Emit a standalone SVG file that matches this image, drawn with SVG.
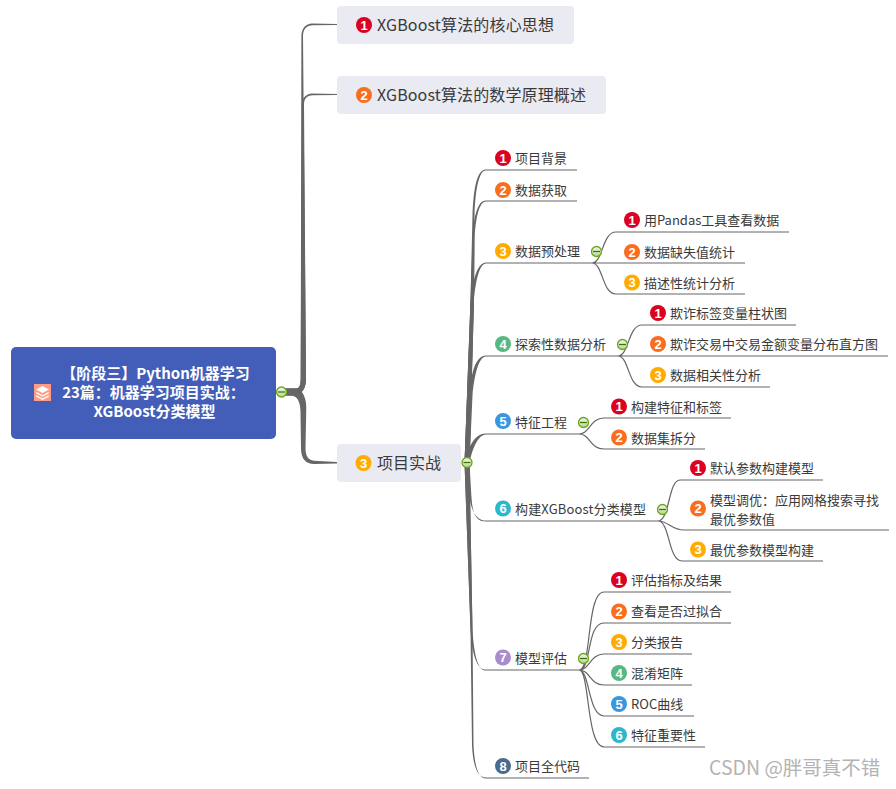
<svg xmlns="http://www.w3.org/2000/svg" width="896" height="789" viewBox="0 0 896 789">
<style>
text{font-family:"Noto Sans CJK SC","Liberation Sans",sans-serif;fill:#3a3a3a}
.b{fill:#e9eaf2}
.t{font-size:16px}
.s{font-size:13px}
.n{font-size:13px;font-weight:700;fill:#fff;text-anchor:middle;font-family:"Liberation Sans",sans-serif}
.r{font-size:15px;font-weight:700;fill:#fff;text-anchor:middle}
.l{fill:none;stroke:#666;stroke-width:1.2}
.tr{fill:#666}
.c{fill:url(#g);stroke:#6aa51e;stroke-width:1.3}
.m{stroke:#3f6f10;stroke-width:1.2}
.c1{fill:#dc0021}.c2{fill:#f96d1f}.c3{fill:#ffab00}.c4{fill:#58b884}.c5{fill:#3a96dd}.c6{fill:#2db7cb}.c7{fill:#a88ccb}.c8{fill:#4b6b8e}
</style>
<defs>
<linearGradient id="g" x1="0" y1="0" x2="0" y2="1"><stop offset="0" stop-color="#f2f6ea"/><stop offset="1" stop-color="#b5d78c"/></linearGradient>
</defs>
<g id="connectors">
<path class="tr" d="M281 388.500H296C300 388.500 300.600 384 300.700 378L301.400 36C301.600 28 306 24 312 23.600L337 24V25L313 25.200C306 25.600 303.200 29 303 36L306 378C306 388 303 392 297 395.500H281Z"/>
<path class="tr" d="M281 388.500H296C300 388.500 300.600 384 300.700 378L301.800 105C302 98 306 94 312 93.600L337 94V95L313 95.200C306 95.600 304 99 304 105L306 378C306 388 303 392 297 395.500H281Z"/>
<path class="tr" d="M281 388.500H296C301 389 303 393 304.500 397C306 401 306.500 405 306.200 412L305.500 448C305.500 456 308 460 314 460.800L337 462V463.500L314 464C306 464 301.200 459 301 449L300.500 412C300.300 403 298 396.500 292 395.500H281Z"/>
<path class="tr" d="M464.500 463L470.500 300L472.500 215C473.500 188 477 169.600 486 169.600V170.600C479 170.600 475.500 189 474.500 215L474 300L469.500 463Z"/>
<path class="tr" d="M464.500 463L470.500 300L472.500 240C473.500 218 477 200.600 486 200.600V201.600C479 201.600 475.500 219 474.500 240L474 300L469.500 463Z"/>
<path class="tr" d="M464.500 463L470.500 305C472 282 477 262.600 486 262.600V263.600C479 263.600 475 284 473.500 305L469.500 463Z"/>
<path class="tr" d="M464.500 463L469.500 395C471 372 476 355.600 486 355.600V356.600C479 356.600 474.500 374 472.500 395L469.500 463Z"/>
<path class="tr" d="M464.500 463C468 447 475 433.600 486 433.600V434.600C478 434.600 472 450 469.500 463Z"/>
<path class="tr" d="M464.500 463L468.500 490C470 508 475 520.600 486 520.600V521.600C473 521.600 472 508 471 490L469.500 463Z"/>
<path class="tr" d="M464.500 463L470.500 630C472 655 477 669.600 486 669.600V670.600C478 670.600 474 655 472.500 630L469.500 463Z"/>
<path class="tr" d="M464.500 463L470.500 630L472 745C473 765 477 777.600 486 777.600V778.600C478 778.600 474.500 765 473.500 745L472.500 630L469.500 463Z"/>
<path class="l" d="M486 170H577M486 201H577M486 263H592M486 356H618M486 434H579M486 521H658M486 670H579M486 778H589"/>
<path class="l" d="M592 263C603 263 602 232 616 232H789M592 263H745M592 263C603 263 602 294 616 294H745"/>
<path class="l" d="M618 356C629 356 628 325 642 325H796M618 356H888M618 356C629 356 628 387 642 387H770"/>
<path class="l" d="M579 434C590 434 590 418 604 418H731M579 434C590 434 590 449 604 449H705"/>
<path class="l" d="M658 521C670 521 668 480 680 480H823M658 521C668 521 672 530 684 530H889M658 521C670 521 668 561 682 561H823"/>
<path class="l" d="M579 670C592 670 586 592 604 592H731M579 670C592 670 586 623 604 623H731M579 670C590 670 590 654 604 654H692M579 670C590 670 590 685 604 685H692M579 670C590 670 588 716 604 716H694M579 670C590 670 586 747 604 747H705"/>
</g>
<g id="root">
<rect x="11" y="347" width="265" height="92" rx="5" fill="#425eb9"/>
<rect x="34" y="384" width="17" height="17" fill="#ff9c85"/>
<path fill="#fff" d="M42.500 386L49 389.500 42.500 393 36 389.500ZM36.500 392L42.500 395.200 48.500 392 49 393.200 42.500 396.700 36 393.200ZM36.500 395.200L42.500 398.400 48.500 395.200 49 396.400 42.500 399.900 36 396.400Z"/>
<text class="r" x="155.500" y="378.500">【阶段三】Python机器学习</text>
<text class="r" x="153.500" y="398">23篇：机器学习项目实战：</text>
<text class="r" x="154.500" y="417">XGBoost分类模型</text>
<circle class="c" cx="281.500" cy="392" r="5"/><path class="m" d="M278 392H285"/>
</g>
<g id="n1"><rect class="b" x="337" y="6" width="237" height="38" rx="4"/><circle class="c1" cx="364" cy="25" r="8"/><text class="n" x="364" y="29.500">1</text><text class="t" x="377" y="31" textLength="177">XGBoost算法的核心思想</text></g>
<g id="n2"><rect class="b" x="337" y="76" width="269" height="38" rx="4"/><circle class="c2" cx="364" cy="95" r="8"/><text class="n" x="364" y="99.500">2</text><text class="t" x="377" y="101" textLength="209">XGBoost算法的数学原理概述</text></g>
<g id="n3"><rect class="b" x="337" y="444" width="124" height="38" rx="4"/><circle class="c3" cx="363.500" cy="463" r="8"/><text class="n" x="363.500" y="467.500">3</text><text class="t" x="377" y="469">项目实战</text><circle class="c" cx="467" cy="462.500" r="5"/><path class="m" d="M463.500 462.500H470.500"/></g>
<g id="a1"><circle class="c1" cx="503" cy="158" r="8"/><text class="n" x="503" y="162.500">1</text><text class="s" x="515" y="163">项目背景</text></g>
<g id="a2"><circle class="c2" cx="503" cy="190" r="8"/><text class="n" x="503" y="194.500">2</text><text class="s" x="515" y="194.500">数据获取</text></g>
<g id="a3"><circle class="c3" cx="503" cy="251" r="8"/><text class="n" x="503" y="255.500">3</text><text class="s" x="515" y="256">数据预处理</text><circle class="c" cx="596.500" cy="251.500" r="5"/><path class="m" d="M593 251.500H600"/></g>
<g id="a31"><circle class="c1" cx="632" cy="220" r="8"/><text class="n" x="632" y="224.500">1</text><text class="s" x="644" y="225">用Pandas工具查看数据</text></g>
<g id="a32"><circle class="c2" cx="632" cy="252" r="8"/><text class="n" x="632" y="256.500">2</text><text class="s" x="644" y="256.500">数据缺失值统计</text></g>
<g id="a33"><circle class="c3" cx="632" cy="282.500" r="8"/><text class="n" x="632" y="287">3</text><text class="s" x="644" y="287.500">描述性统计分析</text></g>
<g id="a4"><circle class="c4" cx="503" cy="344" r="8"/><text class="n" x="503" y="348.500">4</text><text class="s" x="515" y="349">探索性数据分析</text><circle class="c" cx="622.500" cy="344.500" r="5"/><path class="m" d="M619 344.500H626"/></g>
<g id="a41"><circle class="c1" cx="658" cy="313" r="8"/><text class="n" x="658" y="317.500">1</text><text class="s" x="670" y="318">欺诈标签变量柱状图</text></g>
<g id="a42"><circle class="c2" cx="658" cy="344" r="8"/><text class="n" x="658" y="348.500">2</text><text class="s" x="670" y="349">欺诈交易中交易金额变量分布直方图</text></g>
<g id="a43"><circle class="c3" cx="658" cy="375" r="8"/><text class="n" x="658" y="379.500">3</text><text class="s" x="670" y="380">数据相关性分析</text></g>
<g id="a5"><circle class="c5" cx="503" cy="421" r="8"/><text class="n" x="503" y="425.500">5</text><text class="s" x="515" y="426.500">特征工程</text><circle class="c" cx="583.500" cy="422.500" r="5"/><path class="m" d="M580 422.500H587"/></g>
<g id="a51"><circle class="c1" cx="619" cy="406.500" r="8"/><text class="n" x="619" y="411">1</text><text class="s" x="631" y="411.500">构建特征和标签</text></g>
<g id="a52"><circle class="c2" cx="619" cy="437.500" r="8"/><text class="n" x="619" y="442">2</text><text class="s" x="631" y="442.500">数据集拆分</text></g>
<g id="a6"><circle class="c6" cx="503" cy="508.500" r="8"/><text class="n" x="503" y="513">6</text><text class="s" x="515" y="513.500" textLength="131">构建XGBoost分类模型</text><circle class="c" cx="662.500" cy="509.500" r="5"/><path class="m" d="M659 509.500H666"/></g>
<g id="a61"><circle class="c1" cx="698" cy="468" r="8"/><text class="n" x="698" y="472.500">1</text><text class="s" x="710" y="473">默认参数构建模型</text></g>
<g id="a62"><circle class="c2" cx="698" cy="508.500" r="8"/><text class="n" x="698" y="513">2</text><text class="s" x="710" y="504.500">模型调优：应用网格搜索寻找</text><text class="s" x="710" y="524">最优参数值</text></g>
<g id="a63"><circle class="c3" cx="698" cy="549.500" r="8"/><text class="n" x="698" y="554">3</text><text class="s" x="710" y="555">最优参数模型构建</text></g>
<g id="a7"><circle class="c7" cx="503" cy="657.500" r="8"/><text class="n" x="503" y="662">7</text><text class="s" x="515" y="663">模型评估</text><circle class="c" cx="583.500" cy="658.500" r="5"/><path class="m" d="M580 658.500H587"/></g>
<g id="a71"><circle class="c1" cx="619" cy="580" r="8"/><text class="n" x="619" y="584.500">1</text><text class="s" x="631" y="585">评估指标及结果</text></g>
<g id="a72"><circle class="c2" cx="619" cy="611.500" r="8"/><text class="n" x="619" y="616">2</text><text class="s" x="631" y="616">查看是否过拟合</text></g>
<g id="a73"><circle class="c3" cx="619" cy="642" r="8"/><text class="n" x="619" y="646.500">3</text><text class="s" x="631" y="647">分类报告</text></g>
<g id="a74"><circle class="c4" cx="619" cy="673" r="8"/><text class="n" x="619" y="677.500">4</text><text class="s" x="631" y="678">混淆矩阵</text></g>
<g id="a75"><circle class="c5" cx="619" cy="704" r="8"/><text class="n" x="619" y="708.500">5</text><text class="s" x="631" y="709">ROC曲线</text></g>
<g id="a76"><circle class="c6" cx="619" cy="735" r="8"/><text class="n" x="619" y="739.500">6</text><text class="s" x="631" y="740">特征重要性</text></g>
<g id="a8"><circle class="c8" cx="503" cy="766" r="8"/><text class="n" x="503" y="770.500">8</text><text class="s" x="515" y="771">项目全代码</text></g>
<text x="709" y="775" font-size="19.500" style="fill:#b3b3b3">CSDN @胖哥真不错</text>
</svg>
